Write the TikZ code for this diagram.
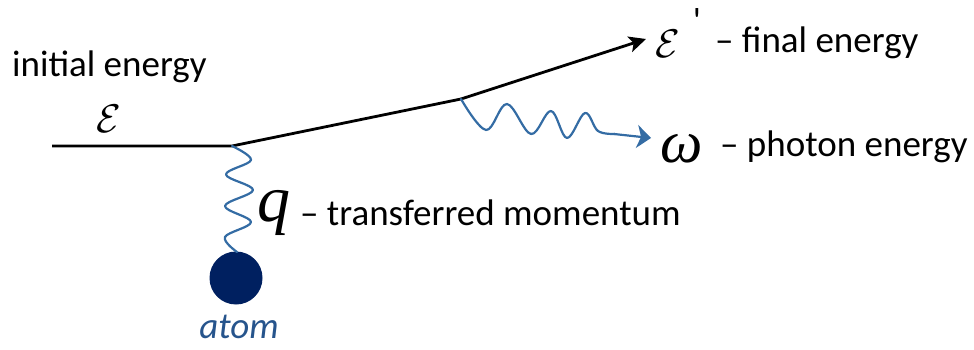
\documentclass[tikz,border=0pt]{standalone}
\usepackage{fontspec}
\setmainfont{Carlito}
\newfontfamily\tmsfont{Liberation Serif}
\usetikzlibrary{arrows.meta}
\definecolor{wave}{RGB}{52,108,164}
\definecolor{atomfill}{RGB}{0,32,96}
\definecolor{atomtext}{RGB}{38,84,140}
\begin{document}
\begin{tikzpicture}[x=1pt,y=-1pt,
  particle/.style={line width=2.8pt,line join=round},
  photon/.style={wave,line width=2.2pt,line cap=round,line join=round},
  label/.style={inner sep=0pt,font=\fontsize{37}{40}\selectfont},
  sym/.style={inner sep=0pt}]
\useasboundingbox (0,0) rectangle (974,350);
% vertices
\coordinate (start) at (52,146);
\coordinate (v1) at (232,146);
\coordinate (v2) at (461,99);
\coordinate (tipE) at (646,39);
\coordinate (tipW) at (651,138);
% atom
\fill[atomfill] (236,278) circle (26.5);
\node[label,anchor=base,font=\fontsize{37}{40}\selectfont\itshape,text=atomtext] (atomlbl) at (239,338) {atom};
\coordinate (atomtop) at (237,252);
% electron line
\draw[particle] (start) -- (v1) -- (v2);
\draw[particle,-{Stealth[length=17pt,width=16pt,inset=4pt]}] (v2) -- (tipE);
% transferred momentum wiggle
\draw[photon] plot[smooth,tension=0.6] coordinates {(v1) (251,160) (226,174.5) (253,190) (225,206) (251,222) (225,237) (atomtop)};
% emitted photon
\draw[photon] plot[smooth,tension=0.6] coordinates {(v2) (486,130) (507,104) (531,134) (551,111) (567,138) (585,113) (598,131) (615,134)};
\draw[photon,-{Stealth[length=14pt,width=23pt,inset=4pt]}] (614,134) -- (tipW);
% symbols
\node[sym] (eps) at (108.5,118.5) {\scalebox{4}{$\mathcal{E}$}};
\node[sym] (epsp) at (668,43.5) {\scalebox{4}{$\mathcal{E}$}};
\node[label] (prime) at (697,21) {\textquotesingle};
\node[sym,font=\fontsize{60}{64}\tmsfont\itshape] (om) at (682,148.5) {ω};
\node[sym,font=\fontsize{66}{70}\tmsfont\itshape] (q) at (274,212.5) {q};
% labels
\node[label,anchor=base west] (init) at (12,77) {initial energy};
\node[label,anchor=base west] (fin) at (715,53) {– final energy};
\node[label,anchor=base west] (pho) at (720,157) {– photon energy};
\node[label,anchor=base west] (mom) at (300,225) {– transferred momentum};
\end{tikzpicture}
\end{document}
